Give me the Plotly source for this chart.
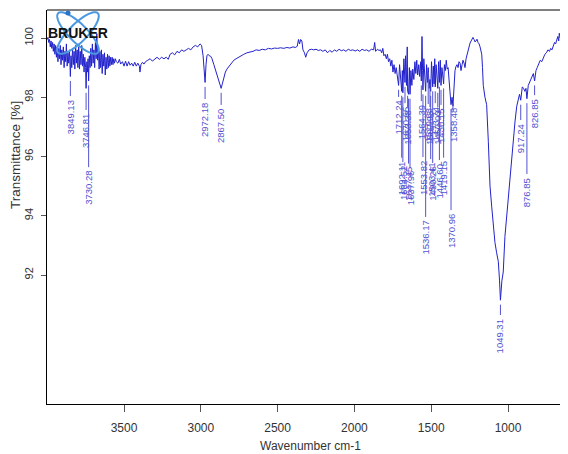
import numpy as np
import plotly.graph_objects as go

# ---------------- data: FTIR spectrum (wavenumber cm-1, transmittance %) ----------------
seg_4000_3550 = [
    (4000, 99.95), (3995, 100.02), (3990, 99.85), (3985, 99.95), (3980, 99.7), (3975, 99.9),
    (3970, 99.65), (3965, 99.85), (3960, 99.55), (3955, 99.8), (3950, 99.45), (3945, 99.75),
    (3940, 99.35), (3935, 99.7), (3930, 99.2), (3925, 99.65), (3920, 99.3), (3915, 99.75),
    (3910, 99.1), (3905, 99.6), (3900, 99.25), (3895, 99.7), (3890, 99.0), (3885, 99.55),
    (3880, 99.2), (3875, 99.8), (3870, 99.05), (3865, 99.5), (3860, 99.15), (3855, 99.6),
    (3849.13, 98.7), (3845, 99.4), (3840, 99.0), (3835, 99.65), (3830, 99.1), (3825, 99.55),
    (3820, 98.95), (3815, 99.75), (3810, 99.15), (3805, 99.6), (3800, 99.0), (3795, 99.7),
    (3790, 98.95), (3785, 99.55), (3780, 99.1), (3775, 99.75), (3770, 99.05), (3765, 99.45),
    (3760, 98.85), (3755, 99.35), (3750, 99.0), (3746.81, 98.3), (3742, 99.2), (3738, 98.85),
    (3734, 99.3), (3730.28, 98.55), (3726, 99.4), (3721, 99.0), (3716, 99.65), (3711, 99.05),
    (3706, 99.8), (3701, 99.15), (3696, 99.6), (3691, 99.0), (3686, 99.85), (3681, 99.3),
    (3677, 100.15), (3672, 99.25), (3667, 99.7), (3662, 98.95), (3657, 99.55), (3652, 99.0),
    (3647, 99.6), (3642, 98.8), (3637, 99.45), (3632, 99.05), (3627, 99.5), (3622, 98.75),
    (3617, 99.35), (3612, 98.95), (3607, 99.45), (3602, 99.0), (3597, 99.4), (3592, 99.05),
    (3587, 99.35), (3582, 99.1), (3577, 99.35), (3572, 99.1), (3567, 99.3), (3562, 99.15),
    (3556, 99.3), (3550, 99.2),
]
seg_3550_1830 = [
    (3540, 99.15), (3530, 99.28), (3522, 99.12), (3510, 99.2), (3500, 99.05), (3490, 99.22),
    (3480, 99.05), (3470, 99.2), (3460, 99.08), (3450, 99.15), (3440, 99.05), (3430, 99.18),
    (3420, 99.05), (3410, 99.15), (3400, 99.05), (3396, 98.85), (3390, 99.1), (3380, 99.18),
    (3370, 99.12), (3360, 99.2), (3345, 99.25), (3330, 99.3), (3315, 99.22), (3300, 99.3),
    (3285, 99.35), (3270, 99.28), (3255, 99.35), (3240, 99.3), (3225, 99.35), (3212, 99.28),
    (3200, 99.45), (3185, 99.5), (3170, 99.43), (3155, 99.55), (3140, 99.5), (3125, 99.6),
    (3110, 99.55), (3095, 99.6), (3080, 99.65), (3065, 99.6), (3050, 99.7), (3035, 99.75),
    (3020, 99.7), (3005, 99.8), (2995, 99.75), (2985, 99.4), (2979, 98.8), (2972.18, 98.5),
    (2966, 99.1), (2960, 99.4), (2953, 99.45), (2945, 99.4), (2935, 99.38), (2927, 99.3),
    (2915, 99.1), (2900, 98.85), (2885, 98.55), (2875, 98.35), (2867.50, 98.3), (2860, 98.45),
    (2850, 98.7), (2840, 98.85), (2830, 98.95), (2815, 99.05), (2800, 99.15), (2785, 99.25),
    (2770, 99.3), (2755, 99.35), (2740, 99.4), (2720, 99.45), (2700, 99.5), (2680, 99.52),
    (2660, 99.55), (2640, 99.6), (2620, 99.58), (2600, 99.62), (2580, 99.6), (2560, 99.65),
    (2540, 99.63), (2520, 99.66), (2500, 99.65), (2480, 99.67), (2460, 99.65), (2440, 99.68),
    (2420, 99.66), (2400, 99.7), (2385, 99.68), (2372, 99.72), (2364, 99.95), (2357, 99.8),
    (2350, 99.95), (2342, 99.9), (2335, 99.6), (2325, 99.5), (2317, 99.35), (2308, 99.5),
    (2295, 99.6), (2280, 99.62), (2265, 99.6), (2250, 99.62), (2235, 99.58), (2220, 99.6),
    (2205, 99.55), (2190, 99.6), (2175, 99.5), (2160, 99.58), (2145, 99.52), (2130, 99.6),
    (2115, 99.55), (2100, 99.62), (2085, 99.57), (2070, 99.6), (2055, 99.55), (2040, 99.62),
    (2025, 99.58), (2010, 99.6), (1995, 99.56), (1980, 99.6), (1965, 99.55), (1950, 99.62),
    (1935, 99.58), (1920, 99.6), (1905, 99.55), (1890, 99.62), (1875, 99.6), (1868, 99.85),
    (1862, 99.55), (1850, 99.62), (1840, 99.58), (1830, 99.6),
]
seg_1830_1340 = [
    (1822, 99.5), (1815, 99.65), (1808, 99.4), (1800, 99.45), (1792, 99.3), (1785, 99.45),
    (1778, 99.2), (1770, 99.3), (1763, 99.05), (1756, 99.25), (1749, 98.85), (1742, 99.1),
    (1735, 98.8), (1728, 99.0), (1720, 98.65), (1712.24, 98.4), (1706, 99.1), (1700, 98.6),
    (1692.11, 98.2), (1688, 98.9), (1684.52, 98.15), (1678, 99.3), (1670.65, 98.5), (1667, 99.4),
    (1661, 98.4), (1656, 99.7), (1653.38, 98.2), (1647.45, 98.1), (1642, 99.0), (1637.96, 98.1),
    (1632, 98.9), (1626, 98.4), (1620, 98.95), (1613, 98.6), (1606, 99.2), (1600, 98.8),
    (1594, 99.25), (1588, 98.75), (1581, 99.1), (1575, 98.7), (1568, 99.2), (1564.39, 98.55),
    (1560, 100.05), (1556, 98.9), (1553.82, 98.25), (1548, 99.3), (1542, 98.6), (1536.17, 98.2),
    (1530, 99.1), (1524, 98.5), (1519.63, 99.0), (1513, 98.3), (1507.93, 98.6), (1503.41, 98.2),
    (1498, 99.2), (1490.26, 98.35), (1486, 99.05), (1481, 98.45), (1477, 99.3), (1473.74, 98.35),
    (1468, 99.1), (1463, 98.6), (1457.03, 98.3), (1452, 99.2), (1446.60, 98.5), (1441, 99.25),
    (1436.15, 98.4), (1430, 99.0), (1425, 98.8), (1419.15, 98.45), (1414, 99.1), (1408, 98.9),
    (1402, 99.25), (1396, 98.95), (1390, 99.0), (1384, 98.7), (1378, 98.2), (1370.96, 97.75),
    (1364, 98.0), (1358.48, 97.7), (1352, 98.3), (1345, 98.9),
]
seg_1340_600 = [
    (1338, 99.05), (1332, 99.1), (1325, 99.0), (1319, 99.2), (1312, 99.15), (1306, 98.9),
    (1299, 99.1), (1293, 99.25), (1286, 99.15), (1280, 99.0), (1273, 99.3), (1267, 99.45),
    (1260, 99.55), (1253, 99.7), (1247, 99.83), (1240, 99.9), (1234, 99.95), (1228, 100.02),
    (1221, 99.95), (1215, 99.87), (1208, 99.9), (1202, 99.96), (1195, 99.85), (1188, 99.8),
    (1182, 99.7), (1176, 99.55), (1171, 99.45), (1166, 99.0), (1161, 98.4), (1150, 98.0),
    (1139, 97.75), (1128, 96.5), (1117, 95.0), (1106, 94.3), (1096, 93.6), (1085, 93.1),
    (1074, 92.75), (1063, 92.45), (1055, 91.8), (1049.31, 91.15), (1040, 91.8), (1031, 92.1),
    (1020, 93.3), (1009, 93.95), (998, 94.8), (987, 95.5), (976, 96.1), (965, 96.7),
    (954, 97.2), (943, 97.7), (933, 97.9), (925, 98.1), (917.24, 97.9), (907, 98.35),
    (899, 98.3), (890, 98.2), (883, 98.3), (876.85, 97.95), (868, 98.4), (857, 98.55),
    (846, 98.7), (835, 98.8), (826.85, 98.55), (818, 98.9), (810, 99.0), (800, 99.1),
    (790, 99.25), (780, 99.2), (770, 99.35), (760, 99.45), (750, 99.5), (740, 99.6),
    (730, 99.55), (722, 99.65), (714, 99.6), (705, 99.75), (697, 99.85), (690, 99.8),
    (683, 99.95), (676, 100.05), (670, 99.9), (666, 100.16), (660, 100.0), (655, 100.1),
    (650, 99.95), (644, 100.08), (638, 99.95), (633, 100.05), (628, 99.8), (622, 99.65),
    (616, 99.5), (608, 99.45),
]

# picked peaks (wavenumbers, as labelled by the software)
peak_wn = [3849.13, 3746.81, 3730.28, 2972.18, 2867.50,
           1712.24, 1692.11, 1684.52, 1670.65, 1653.38, 1647.45, 1637.96,
           1564.39, 1553.82, 1536.17, 1519.63, 1507.93, 1503.41, 1490.26,
           1473.74, 1457.03, 1446.60, 1436.15, 1419.15, 1370.96, 1358.48,
           1049.31, 917.24, 876.85, 826.85]

x_ticks = [3500, 3000, 2500, 2000, 1500, 1000]
y_ticks = [92, 94, 96, 98, 100]

# ---------------- layout / style ----------------
# transmittance level where each peak label text starts (label staggering)
label_level = [97.94, 97.47, 95.54, 97.84, 97.64,
               97.91, 95.86, 95.71, 97.70, 97.57, 95.66, 95.54,
               97.77, 95.88, 93.86, 97.67, 97.57, 95.81, 95.68,
               97.70, 97.57, 95.78, 97.64, 95.86, 94.09, 97.67,
               90.55, 97.13, 95.31, 97.97]

OFF = 8                      # page body margin offset (px)
PAGE_W, PAGE_H = 568, 454
W, H = PAGE_W - OFF, PAGE_H - OFF
ML, MR, MT, MB = 47 - OFF, 0, 10 - OFF, PAGE_H - 404
X_RANGE = [4001.3, 609.4]
Y_RANGE = [87.646, 100.945]
LINE_COL = "#2222cc"
LABEL_COL = "#5252d2"
TICK_FONT = "Liberation Sans Narrow, Liberation Sans, Arial, sans-serif"
ROT_FONT = "Liberation Sans, Arial, sans-serif"

spec = seg_4000_3550 + seg_3550_1830 + seg_1830_1340 + seg_1340_600
wn = np.array([p[0] for p in spec])
tr = np.array([p[1] for p in spec])

fig = go.Figure()
fig.add_trace(go.Scatter(x=wn, y=tr, mode="lines",
                         line=dict(color=LINE_COL, width=1), hoverinfo="skip"))

# label tick lines
order = np.argsort(wn)
lx, ly = [], []
for w, lev in zip(peak_wn, label_level):
    t_here = float(np.interp(w, wn[order], tr[order]))
    lx += [w, w, None]
    ly += [t_here - 0.15, lev + 0.1, None]
fig.add_trace(go.Scatter(x=lx, y=ly, mode="lines",
                         line=dict(color=LABEL_COL, width=1), hoverinfo="skip"))

for w, lev in zip(peak_wn, label_level):
    fig.add_annotation(x=w, y=lev, xref="x", yref="y", text=f"{w:.2f}",
                       showarrow=False, textangle=-90, xanchor="center", yanchor="top",
                       borderpad=0, font=dict(family=ROT_FONT, size=9.5, color=LABEL_COL))

pw = W - ML - MR
ph = H - MT - MB

def px2paper(px, py):
    # page pixel -> paper coordinate
    return (px - OFF - ML) / pw, (H - MB - (py - OFF)) / ph

# axis titles
xt, yt = px2paper(310, 446)
fig.add_annotation(x=xt, y=yt, xref="paper", yref="paper", text="Wavenumber cm-1",
                   showarrow=False, xanchor="center", yanchor="middle",
                   font=dict(family=TICK_FONT, size=12, color="#333333"))
xt, yt = px2paper(15, 155)
fig.add_annotation(x=xt, y=yt, xref="paper", yref="paper", text="Transmittance [%]",
                   showarrow=False, textangle=-90, xanchor="center", yanchor="middle",
                   font=dict(family=ROT_FONT, size=13.5, color="#333333"))

# top border of the plot box
fig.add_shape(type="line", xref="paper", yref="paper", x0=0, x1=1, y0=1, y1=1,
              line=dict(color="black", width=1))

# BRUKER logo: atom orbits + lettering
tt = np.linspace(0, 2 * np.pi, 60)
for ang in (np.pi / 4, -np.pi / 4):
    ex = 28 * np.cos(tt)
    ey = 9 * np.sin(tt)
    pxs = 78 + ex * np.cos(ang) - ey * np.sin(ang)
    pys = 33 + ex * np.sin(ang) + ey * np.cos(ang)
    pts = [px2paper(a, b) for a, b in zip(pxs, pys)]
    path = "M " + " L ".join(f"{a:.5f},{b:.5f}" for a, b in pts) + " Z"
    fig.add_shape(type="path", xref="paper", yref="paper", path=path,
                  line=dict(color="#4a98e0", width=2))
dx, dy = px2paper(68, 13)
fig.add_shape(type="circle", xref="paper", yref="paper",
              x0=dx - 2.5 / pw, x1=dx + 2.5 / pw, y0=dy - 2.5 / ph, y1=dy + 2.5 / ph,
              fillcolor="#2a72c8", line=dict(width=0))
bx, by = px2paper(78, 33)
fig.add_annotation(x=bx, y=by, xref="paper", yref="paper", text="<b>BRUKER</b>",
                   showarrow=False, xanchor="center", yanchor="middle",
                   font=dict(family="Liberation Sans, Arial, sans-serif", size=14, color="#111111"))

fig.update_layout(
    width=W, height=H,
    margin=dict(l=ML, r=MR, t=MT, b=MB, pad=0),
    paper_bgcolor="white", plot_bgcolor="white",
    showlegend=False,
    xaxis=dict(range=X_RANGE, tickvals=x_ticks, ticktext=[str(v) for v in x_ticks],
               showline=True, linecolor="black", linewidth=1, mirror=False,
               ticks="outside", ticklen=7, tickcolor="#555555", tickwidth=1,
               showgrid=False, zeroline=False, ticklabelstandoff=6,
               tickfont=dict(family=TICK_FONT, size=12, color="#333333")),
    yaxis=dict(range=Y_RANGE, tickvals=y_ticks, ticktext=[str(v) for v in y_ticks],
               showline=True, linecolor="black", linewidth=1, mirror=False,
               ticks="outside", ticklen=5, tickcolor="#555555", tickwidth=1,
               tickangle=-90, showgrid=False, zeroline=False, ticklabelstandoff=4,
               tickfont=dict(family=ROT_FONT, size=11, color="#333333")),
)

fig.write_html("out.html")
